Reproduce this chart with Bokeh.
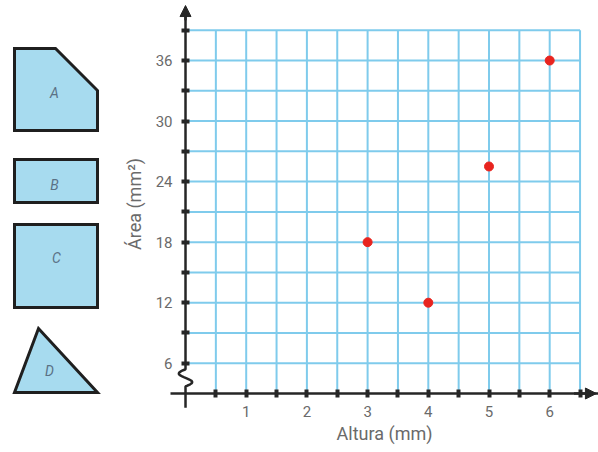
from bokeh.plotting import figure
from bokeh.models import Range1d, LinearAxis, FixedTicker, Arrow, NormalHead
from bokeh.core.properties import value
from bokeh.embed import file_html
from bokeh.resources import INLINE
import numpy as np

# ---------------- data ----------------
altura = [3, 4, 5, 6]
area = [18, 12, 25.5, 36]

x_tick_values = [1, 2, 3, 4, 5, 6]
x_minor_values = [0.5, 1.5, 2.5, 3.5, 4.5, 5.5, 6.5]
y_tick_values = [6, 12, 18, 24, 30, 36]
y_minor_values = [9, 15, 21, 27, 33, 39]

grid_x_values = [0.5, 1, 1.5, 2, 2.5, 3, 3.5, 4, 4.5, 5, 5.5, 6, 6.5]
grid_y_values = [6, 9, 12, 15, 18, 21, 24, 27, 30, 33, 36, 39]
x_axis_at = 3      # broken y axis: x axis drawn at area = 3
grid_top = 39
grid_right = 6.5

shape_names = ["A", "B", "C", "D"]

# ---------------- figure ----------------
W, H = 598, 452
p = figure(width=W, height=H, output_backend="svg", toolbar_location=None,
           x_range=Range1d(-3.048, 6.804), y_range=Range1d(-2.847, 41.95),
           x_axis_type=None, y_axis_type=None, min_border=0,
           outline_line_color=None)
p.xgrid.visible = False
p.ygrid.visible = False
p.extra_x_ranges = {"px": Range1d(0, W)}
p.extra_y_ranges = {"py": Range1d(H, 0)}

grid_color = "#7fcbec"
p.segment(x0=grid_x_values, y0=[x_axis_at] * len(grid_x_values),
          x1=grid_x_values, y1=[grid_top] * len(grid_x_values),
          line_color=grid_color, line_width=2)
p.segment(x0=[0] * len(grid_y_values), y0=grid_y_values,
          x1=[grid_right] * len(grid_y_values), y1=grid_y_values,
          line_color=grid_color, line_width=2)

axis_color = "#262626"
label_color = "#6a6a6a"
font = "Roboto"

xaxis = LinearAxis(fixed_location=x_axis_at,
                   ticker=FixedTicker(ticks=x_tick_values, minor_ticks=x_minor_values),
                   bounds=(-0.25, 7.25),
                   axis_label="Altura (mm)")
yaxis = LinearAxis(fixed_location=0,
                   ticker=FixedTicker(ticks=y_tick_values, minor_ticks=y_minor_values),
                   bounds=(1.6, 42.0),
                   axis_label="Área (mm²)")
for ax in (xaxis, yaxis):
    ax.axis_line_color = axis_color
    ax.axis_line_width = 2.5
    ax.major_tick_in = 4
    ax.major_tick_out = 4
    ax.minor_tick_in = 4
    ax.minor_tick_out = 4
    ax.major_tick_line_width = 4
    ax.minor_tick_line_width = 4
    ax.major_tick_line_color = axis_color
    ax.minor_tick_line_color = axis_color
    ax.major_label_text_color = label_color
    ax.major_label_text_font = font
    ax.major_label_text_font_size = "15px"
    ax.axis_label_text_color = label_color
    ax.axis_label_text_font = font
    ax.axis_label_text_font_size = "18px"
    ax.axis_label_text_font_style = "normal"
xaxis.major_label_standoff = 8
xaxis.axis_label_standoff = 3
yaxis.major_label_standoff = 9
yaxis.axis_label_standoff = 8
yaxis.axis_line_color = None
p.add_layout(xaxis, "below")
p.add_layout(yaxis, "left")

# y axis line with break
t = np.linspace(0, 1, 25)
sq_y = 3.7 + 1.7 * t
sq_x = 0.11 * np.sin(2 * np.pi * t)
ys_line = np.concatenate([[1.6], sq_y, [40.5]])
xs_line = np.concatenate([[0], sq_x, [0]])
p.line(xs_line, ys_line, line_color=axis_color, line_width=2.5)
p.add_layout(Arrow(x_start=0, y_start=40.0, x_end=0, y_end=41.45,
                   line_color=axis_color, line_width=2.5,
                   end=NormalHead(size=11, fill_color=axis_color, line_color=axis_color)))
p.add_layout(Arrow(x_start=6.4, y_start=x_axis_at, x_end=6.77, y_end=x_axis_at,
                   line_color=axis_color, line_width=2.5,
                   end=NormalHead(size=11, fill_color=axis_color, line_color=axis_color)))

# data points
p.scatter(altura, area, size=9, fill_color="#e8241f", line_color="#e8241f")

# ---------------- shapes on the left (illustration, page pixels) ----------------
shape_xs = [[14, 55, 97, 97, 14], [14, 97, 97, 14], [14, 97, 97, 14], [14, 97, 38]]
shape_ys = [[48, 48, 90, 130, 130], [159, 159, 202, 202], [224, 224, 307, 307], [392, 392, 328]]
shape_lx = [54, 54, 56, 49]
shape_ly = [92, 184, 257, 370]
p.patches(shape_xs, shape_ys, x_range_name="px", y_range_name="py",
          fill_color="#a7dbef", line_color="#1f1f1f", line_width=3, line_join="miter")
p.text(x=shape_lx, y=shape_ly, text=shape_names, x_range_name="px", y_range_name="py",
       text_align="center", text_baseline="middle", text_font=value(font),
       text_font_style="italic", text_font_size="14px", text_color="#5a7185")

open("out.html", "w").write(file_html(p, INLINE))
